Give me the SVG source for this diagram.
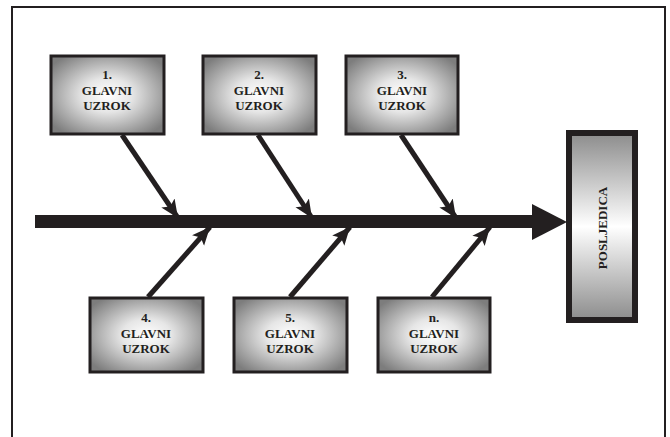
<svg xmlns="http://www.w3.org/2000/svg" width="670" height="437" viewBox="0 0 670 437">
<style>
.box{stroke:#231f20;stroke-width:3;fill:url(#rg)}
.t{font-family:"Liberation Serif","Times New Roman",serif;font-weight:bold;font-size:13px;fill:#231f20;text-anchor:middle}
.br{stroke:#231f20;stroke-width:5;fill:none;marker-end:url(#ah)}
</style>
<defs>
<radialGradient id="rg" cx="0.5" cy="0.5" r="0.62">
<stop offset="0" stop-color="#ffffff"/>
<stop offset="0.35" stop-color="#e6e6e6"/>
<stop offset="1" stop-color="#7d7d7d"/>
</radialGradient>
<linearGradient id="lg" x1="0" y1="0" x2="0" y2="1">
<stop offset="0" stop-color="#8c8c8c"/>
<stop offset="0.5" stop-color="#ffffff"/>
<stop offset="1" stop-color="#8c8c8c"/>
</linearGradient>
<marker id="ah" markerUnits="userSpaceOnUse" markerWidth="20" markerHeight="20" viewBox="0 0 20 20" refX="18" refY="10" orient="auto">
<path d="M0,2 L18,10 L0,18 L4,10 Z" fill="#231f20"/>
</marker>
</defs>
<rect x="12" y="7" width="653" height="440" fill="#fff" stroke="#231f20" stroke-width="2"/>
<g id="connectors">
<rect x="35" y="215" width="500" height="13" fill="#231f20"/>
<path d="M532,204 L567,222 L532,240 Z" fill="#231f20"/>
<line class="br" x1="122" y1="135" x2="178" y2="218"/>
<line class="br" x1="258" y1="135" x2="312" y2="218"/>
<line class="br" x1="401" y1="135" x2="456" y2="218"/>
<line class="br" x1="148" y1="297" x2="210" y2="227"/>
<line class="br" x1="290" y1="297" x2="350" y2="227"/>
<line class="br" x1="432" y1="297" x2="490" y2="227"/>
</g>
<g id="n1"><rect class="box" x="51" y="56" width="113" height="78"/>
<text class="t" x="107" y="79">1.</text><text class="t" x="107" y="95">GLAVNI</text><text class="t" x="107" y="110">UZROK</text></g>
<g id="n2"><rect class="box" x="203" y="56" width="113" height="78"/>
<text class="t" x="259" y="79">2.</text><text class="t" x="259" y="95">GLAVNI</text><text class="t" x="259" y="110">UZROK</text></g>
<g id="n3"><rect class="box" x="346" y="56" width="112" height="78"/>
<text class="t" x="402" y="79">3.</text><text class="t" x="402" y="95">GLAVNI</text><text class="t" x="402" y="110">UZROK</text></g>
<g id="n4"><rect class="box" x="90" y="298" width="113" height="74"/>
<text class="t" x="146" y="322">4.</text><text class="t" x="146" y="338">GLAVNI</text><text class="t" x="146" y="353">UZROK</text></g>
<g id="n5"><rect class="box" x="234" y="298" width="113" height="74"/>
<text class="t" x="290" y="322">5.</text><text class="t" x="290" y="338">GLAVNI</text><text class="t" x="290" y="353">UZROK</text></g>
<g id="nn"><rect class="box" x="378" y="298" width="112" height="74"/>
<text class="t" x="434" y="322">n.</text><text class="t" x="434" y="338">GLAVNI</text><text class="t" x="434" y="353">UZROK</text></g>
<g id="effect"><rect x="569" y="133" width="66" height="187" fill="url(#lg)" stroke="#231f20" stroke-width="6"/>
<text class="t" transform="translate(607,228) rotate(-90)" x="0" y="0">POSLJEDICA</text></g>
</svg>
